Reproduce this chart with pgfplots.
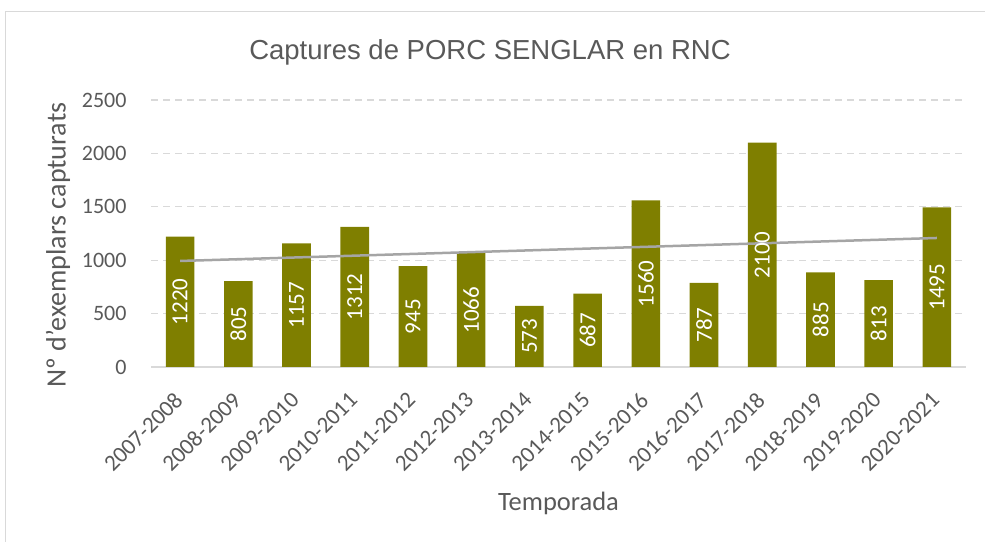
\documentclass[border=0pt]{standalone}
\usepackage{fontspec}
\setmainfont{Carlito}
\newfontfamily\titlefont{Liberation Sans}
\usepackage{pgfplots}
\pgfplotsset{compat=1.18}
\usepackage{pgfplotstable}
\definecolor{barcol}{HTML}{7F7F00}
\definecolor{txtcol}{HTML}{595959}
\definecolor{gridcol}{HTML}{D9D9D9}
\definecolor{trendcol}{HTML}{A5A5A5}

\pgfplotstableread{
x y h
0 1220 610
1 805 402.5
2 1157 578.5
3 1312 656
4 945 472.5
5 1066 533
6 573 286.5
7 687 343.5
8 1560 780
9 787 393.5
10 2100 1050
11 885 442.5
12 813 406.5
13 1495 747.5
}\datatable

\begin{document}
\begin{tikzpicture}[x=1bp,y=1bp]
\path[use as bounding box] (0,0) rectangle (985,542);
\draw[gridcol, line width=1.5bp] (5.5,0) -- (5.5,530.5) -- (985,530.5);
\node[font=\titlefont\fontsize{27.5bp}{32bp}\selectfont, text=txtcol] at (490,490) {Captures de PORC SENGLAR en RNC};
\node[font=\fontsize{28bp}{32bp}\selectfont, text=txtcol, rotate=90] at (58,297) {Nº d'exemplars capturats};
\begin{axis}[
  at={(151bp,175bp)}, anchor=south west,
  scale only axis, width=815bp, height=267bp,
  xmin=-0.5, xmax=13.5, ymin=0, ymax=2500,
  ytick={0,500,1000,1500,2000,2500},
  xtick={0,1,2,3,4,5,6,7,8,9,10,11,12,13},
  xticklabels={2007-2008,2008-2009,2009-2010,2010-2011,2011-2012,2012-2013,2013-2014,2014-2015,2015-2016,2016-2017,2017-2018,2018-2019,2019-2020,2020-2021},
  separate axis lines,
  axis x line*=bottom, axis y line*=left,
  y axis line style={draw=none},
  x axis line style={gridcol, line width=1.5bp},
  tick style={draw=none},
  ymajorgrids,
  grid style={gridcol, line width=1.2bp, dash pattern=on 7bp off 5bp},
  /pgf/number format/1000 sep={},
  /pgf/number format/assume math mode=true,
  ticklabel style={font=\fontsize{22bp}{26bp}\selectfont, text=txtcol},
  yticklabel style={xshift=-21bp},
  xticklabel style={font=\fontsize{23bp}{27bp}\selectfont, xshift=1bp, yshift=-27bp, rotate=45, anchor=east},
  xlabel={Temporada},
  every axis x label/.style={at={(axis description cs:0.5,0)}, anchor=center, yshift=-136bp, font=\fontsize{26.5bp}{30bp}\selectfont, text=txtcol},
  clip=false,
]
\addplot[ybar, bar width=28.6bp, fill=barcol, draw=none] table[x=x,y=y]{\datatable};
\addplot[trendcol, line width=2.5bp] coordinates {(0,992.7) (13,1208.0)};
\addplot[only marks, mark=*, mark size=0pt, draw=none, fill=none,
  point meta=explicit symbolic,
  nodes near coords,
  nodes near coords style={rotate=90, anchor=center, text=white, font=\fontsize{23bp}{27bp}\selectfont}]
  table[x=x,y=h,meta=y]{\datatable};
\end{axis}
\end{tikzpicture}
\end{document}
